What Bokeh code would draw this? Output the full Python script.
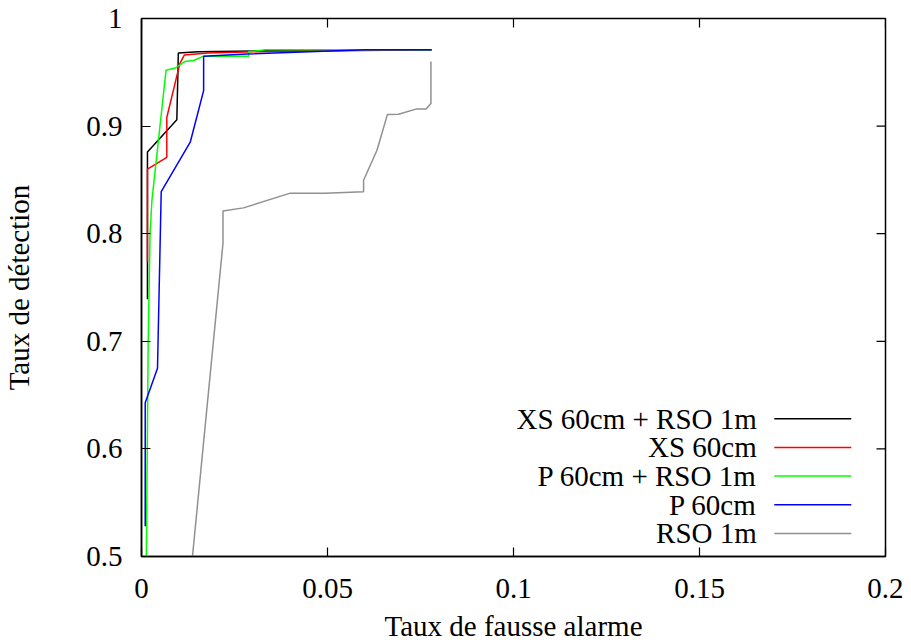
from bokeh.plotting import figure
from bokeh.models import Range1d, FixedTicker
from bokeh.core.properties import value
from bokeh.embed import file_html
from bokeh.resources import INLINE

# ---- data ----
xs_rso_x = [0.0016, 0.0016, 0.0095, 0.0099, 0.0153, 0.033, 0.078]
xs_rso_y = [0.739, 0.876, 0.906, 0.968, 0.969, 0.970, 0.971]

xs_x = [0.0016, 0.0016, 0.0068, 0.0068, 0.0103, 0.0115, 0.018, 0.030, 0.078]
xs_y = [0.774, 0.860, 0.871, 0.908, 0.958, 0.966, 0.968, 0.969, 0.971]

p_rso_x = [0.0013, 0.0018, 0.0023, 0.0028, 0.0066, 0.0091, 0.0116, 0.0140, 0.0167, 0.0288, 0.0288, 0.0333, 0.078]
p_rso_y = [0.500, 0.700, 0.800, 0.831, 0.952, 0.954, 0.960, 0.961, 0.965, 0.965, 0.969, 0.971, 0.971]

p_x = [0.0010, 0.0010, 0.0043, 0.0053, 0.0131, 0.0167, 0.0167, 0.0283, 0.060, 0.078]
p_y = [0.528, 0.643, 0.675, 0.839, 0.885, 0.933, 0.965, 0.967, 0.971, 0.971]

rso_x = [0.0137, 0.0219, 0.0219, 0.0274, 0.0400, 0.0494, 0.0597, 0.0597, 0.0633, 0.0661, 0.0691, 0.0740, 0.0765, 0.0778, 0.0778]
rso_y = [0.500, 0.791, 0.821, 0.824, 0.8377, 0.8377, 0.839, 0.8497, 0.8776, 0.9107, 0.911, 0.916, 0.916, 0.921, 0.960]

series_labels = ["XS 60cm + RSO 1m", "XS 60cm", "P 60cm + RSO 1m", "P 60cm", "RSO 1m"]
series_colors = ["#000000", "#ff0000", "#00ff00", "#0000ff", "#909090"]
series_x = [xs_rso_x, xs_x, p_rso_x, p_x, rso_x]
series_y = [xs_rso_y, xs_y, p_rso_y, p_y, rso_y]

x_ticks = [0, 0.05, 0.1, 0.15, 0.2]
x_tick_labels = ["0", "0.05", "0.1", "0.15", "0.2"]
y_ticks = [0.5, 0.6, 0.7, 0.8, 0.9, 1.0]
y_tick_labels = ["0.5", "0.6", "0.7", "0.8", "0.9", "1"]

FONT = "Liberation Serif"
FS = "29px"
X0, X1, Y0, Y1 = 0.0, 0.2, 0.5, 1.0

W, H = 903, 644
ML, MR, MT, MB = 141, 18, 18, 87

p = figure(width=W, height=H, output_backend="svg", toolbar_location=None,
           x_range=Range1d(X0, X1), y_range=Range1d(Y0, Y1),
           min_border_left=ML, min_border_right=MR, min_border_top=MT, min_border_bottom=MB)
p.grid.visible = False
p.outline_line_color = "black"
p.outline_line_width = 1.5
p.outline_line_alpha = 1.0
p.background_fill_color = "white"
p.border_fill_color = "white"

TICK_PX = 9

def style_axis(ax, ticks, labels):
    ax.ticker = FixedTicker(ticks=ticks)
    ax.major_label_overrides = {t: l for t, l in zip(ticks, labels)}
    ax.major_tick_in = TICK_PX
    ax.major_tick_out = 0
    ax.minor_tick_line_color = None
    ax.major_tick_line_color = "black"
    ax.major_tick_line_width = 1.2
    ax.axis_line_color = "black"
    ax.axis_line_width = 1.5
    ax.major_label_text_font = FONT
    ax.major_label_text_color = "black"
    ax.major_label_text_font_size = FS
    ax.axis_label_text_font = FONT
    ax.axis_label_text_font_size = FS
    ax.axis_label_text_font_style = "normal"
    ax.axis_label_text_color = "black"

style_axis(p.xaxis[0], x_ticks, x_tick_labels)
style_axis(p.yaxis[0], y_ticks, y_tick_labels)
p.xaxis[0].major_label_standoff = 22
p.yaxis[0].major_label_standoff = 19
p.xaxis[0].axis_label = "Taux de fausse alarme"
p.yaxis[0].axis_label = "Taux de détection"
p.xaxis[0].axis_label_standoff = 9
p.yaxis[0].axis_label_standoff = 48

# mirrored inward ticks on the top and right borders (gnuplot style)
frame_w = W - ML - MR
frame_h = H - MT - MB
dy_tick = TICK_PX * (Y1 - Y0) / frame_h
dx_tick = TICK_PX * (X1 - X0) / frame_w
p.segment(x0=x_ticks, x1=x_ticks, y0=[Y1] * len(x_ticks), y1=[Y1 - dy_tick] * len(x_ticks),
          line_color="black", line_width=1.2)
p.segment(x0=[X1] * len(y_ticks), x1=[X1 - dx_tick] * len(y_ticks), y0=y_ticks, y1=y_ticks,
          line_color="black", line_width=1.2)

for xv, yv, c in zip(series_x, series_y, series_colors):
    p.line(xv, yv, line_color=c, line_width=1.5)

# legend (gnuplot style: text right-aligned, sample line on the right)
leg_text_x = 0.1654
leg_line_x0, leg_line_x1 = 0.1701, 0.1908
leg_y0, leg_dy = 0.628, 0.02665
leg_y = [leg_y0 - i * leg_dy for i in range(len(series_labels))]
p.text(x=[leg_text_x] * len(series_labels), y=leg_y, text=series_labels,
       text_align="right", text_baseline="middle", text_font=value(FONT),
       text_font_size=FS, text_color="black")
p.segment(x0=[leg_line_x0] * len(series_labels), x1=[leg_line_x1] * len(series_labels),
          y0=leg_y, y1=leg_y, line_color=series_colors, line_width=1.5)

open("out.html", "w").write(file_html(p, INLINE))
